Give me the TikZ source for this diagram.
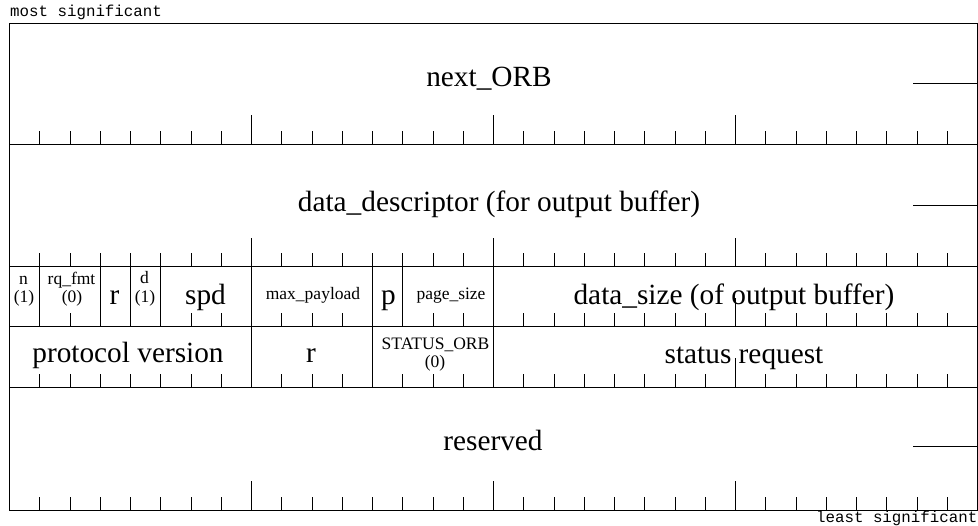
\documentclass[tikz,border=0pt]{standalone}
\usepackage{fontspec}
\setmainfont{Liberation Serif}
\newfontfamily\monofnt{Liberation Mono}
\begin{document}
\begin{tikzpicture}[x=1pt,y=-1pt,
  ln/.style={line width=1pt,black},
  big/.style={font=\fontsize{29.3}{34}\selectfont,inner sep=0pt,anchor=base},
  sml/.style={font=\fontsize{17.5}{20}\selectfont,inner sep=0pt,anchor=base},
  mono/.style={font=\monofnt\fontsize{15.8}{18}\selectfont,inner sep=0pt}]
\useasboundingbox (0,0) rectangle (978,526);
% frame and row lines
\draw[ln] (9.5,23.5) rectangle (977.5,510.5);
\foreach \yy in {144.5,267,327,387.5} {\draw[ln] (9.5,\yy) -- (977.5,\yy);}
% field separators row 3
\foreach \k in {1,3,4,5,8,12,13,16} {\draw[ln] ({9.5+30.25*\k},267) -- ({9.5+30.25*\k},327);}
% field separators row 4
\foreach \k in {8,12,16} {\draw[ln] ({9.5+30.25*\k},327) -- ({9.5+30.25*\k},387.5);}
% ticks rows 1,2,5
\foreach \yb in {144.5,267,510.5} {
  \foreach \k in {1,...,7,9,10,...,15,17,18,...,23,25,26,...,31} {\draw[ln] ({9.5+30.25*\k},\yb) -- ++(0,-13.5);}
  \foreach \k in {8,16,24} {\draw[ln] ({9.5+30.25*\k},\yb) -- ++(0,-29);}
}
% ticks row 3
\foreach \k in {2,6,7,9,10,11,14,15,17,18,...,23,25,26,...,31} {\draw[ln] ({9.5+30.25*\k},327) -- ++(0,-13.5);}
\draw[ln] ({9.5+30.25*24},327) -- ++(0,-29);
% ticks row 4
\foreach \k in {1,...,7,9,10,11,13,14,15,17,18,...,23,25,26,...,31} {\draw[ln] ({9.5+30.25*\k},387.5) -- ++(0,-13.5);}
\draw[ln] ({9.5+30.25*24},387.5) -- ++(0,-29);
% continuation dashes
\draw[ln] (913,84) -- (977.5,84);
\draw[ln] (913,206) -- (977.5,206);
\draw[ln] (913,447) -- (977.5,447);
% corner labels
\node[mono,anchor=base west] (ms) at (10,17) {most significant};
\node[mono,anchor=base east] (ls) at (977.5,522.5) {least significant};
% row texts
\node[big] (nextorb) at (489,87) {next\_ORB};
\node[big] (ddesc) at (499,212) {data\_descriptor (for output buffer)};
\node[big] (resv) at (493,451) {reserved};
% row 3
\node[sml] (n1) at (23.5,285) {n};
\node[sml] (n2) at (24,303) {(1)};
\node[sml] (q1) at (71.5,284.5) {rq\_fmt};
\node[sml] (q2) at (72,303) {(0)};
\node[big] (r3) at (114.5,305) {r};
\node[sml] (d1) at (144.5,284) {d};
\node[sml] (d2) at (145,303) {(1)};
\node[big] (spd) at (205.5,305) {spd};
\node[sml] (maxp) at (313,300) {max\_payload};
\node[big] (pp) at (388.5,305) {p};
\node[sml] (pgs) at (451,300) {page\_size};
\node[big] (dsz) at (734,305) {data\_size (of output buffer)};
% row 4
\node[big] (pv) at (128,363) {protocol version};
\node[big] (r4) at (311,363) {r};
\node[sml] (so1) at (435.5,350) {STATUS\_ORB};
\node[sml] (so2) at (435,368) {(0)};
\node[big] (sreq) at (744,364) {status request};
\end{tikzpicture}
\end{document}
